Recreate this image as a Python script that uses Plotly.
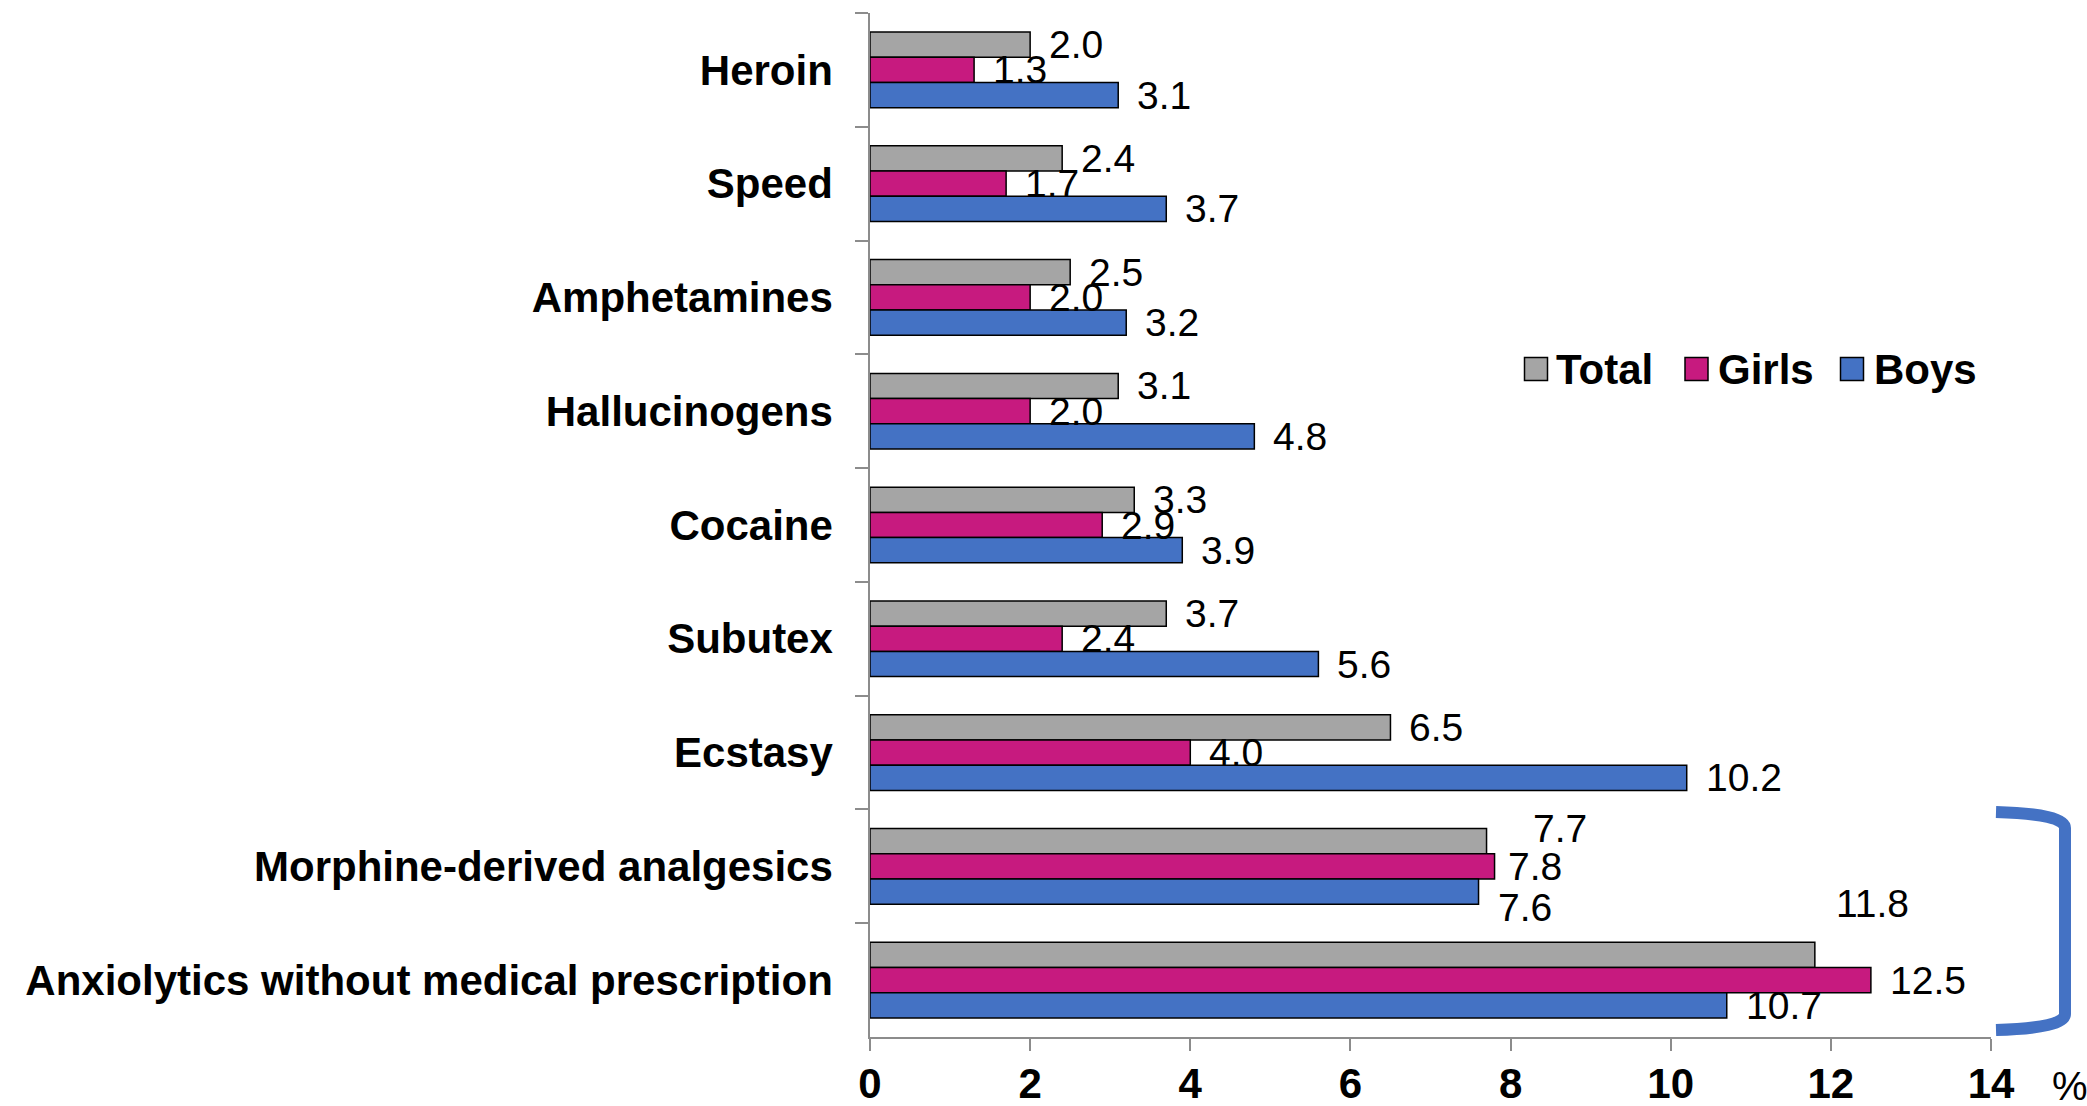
import plotly.graph_objects as go

# ---- data ----
categories = ["Heroin", "Speed", "Amphetamines", "Hallucinogens", "Cocaine",
              "Subutex", "Ecstasy", "Morphine-derived analgesics",
              "Anxiolytics without medical prescription"]
series_names = ["Total", "Girls", "Boys"]
total_values = [2.0, 2.4, 2.5, 3.1, 3.3, 3.7, 6.5, 7.7, 11.8]
girls_values = [1.3, 1.7, 2.0, 2.0, 2.9, 2.4, 4.0, 7.8, 12.5]
boys_values = [3.1, 3.7, 3.2, 4.8, 3.9, 5.6, 10.2, 7.6, 10.7]
x_tick_values = [0, 2, 4, 6, 8, 10, 12, 14]
x_tick_labels = ["0", "2", "4", "6", "8", "10", "12", "14"]
unit_label = "%"

# ---- style ----
W, H = 2087, 1106
ML, MR, MT, MB = 870, 96, 13, 69
PW, PH = W - ML - MR, H - MT - MB
colors = ["#A5A5A5", "#C71A7F", "#4472C4"]
AXIS_GRAY = "#8C8C8C"
FONT = "Liberation Sans"


def px_x(px):
    return (px - ML) / PW


def px_y(py):
    return 1 - (py - MT) / PH


series_values = [total_values, girls_values, boys_values]

fig = go.Figure()
for name, vals, col in zip(series_names, series_values, colors):
    fig.add_trace(go.Bar(
        y=categories, x=vals, name=name, orientation="h",
        marker=dict(color=col, line=dict(color="#000000", width=1.5)),
        showlegend=False, hoverinfo="skip",
    ))

# data labels (annotations placed through data axes, pixel shifts are style)
series_yshift = [25.3, 0, -25.3]
label_gap = 17
custom_shift = {  # (category index, series index): (extra xshift, extra yshift)
    (7, 0): (27, 13),
    (7, 1): (-6, 0),
    (7, 2): (0, -16),
    (8, 0): (2, 51),
}
annotations = []
for si, vals in enumerate(series_values):
    for ci, v in enumerate(vals):
        dx, dy = custom_shift.get((ci, si), (0, 0))
        annotations.append(dict(
            x=v, y=categories[ci], xref="x", yref="y",
            text=f"{v:.1f}", showarrow=False, xanchor="left", yanchor="middle",
            xshift=label_gap + dx, yshift=series_yshift[si] + dy,
            font=dict(family=FONT, size=39, color="#000000"),
        ))

# manual legend (large swatches)
legend_swatch_x = [1524.5, 1685, 1840.5]
legend_text_x = [1554, 1716, 1872]
legend_cy = 369
SW = 23
shapes = []
for i, name in enumerate(series_names):
    x0 = legend_swatch_x[i]
    shapes.append(dict(
        type="rect", xref="paper", yref="paper",
        x0=px_x(x0), x1=px_x(x0 + SW),
        y0=px_y(legend_cy + SW / 2), y1=px_y(legend_cy - SW / 2),
        fillcolor=colors[i], line=dict(color="#000000", width=1.5),
    ))
    annotations.append(dict(
        x=px_x(legend_text_x[i]), y=px_y(legend_cy), xref="paper", yref="paper",
        text=name, showarrow=False, xanchor="left", yanchor="middle",
        font=dict(family=FONT, size=42, color="#000000", weight="bold"),
    ))

# unit label
annotations.append(dict(
    x=px_x(2050), y=px_y(1086), xref="paper", yref="paper",
    text=unit_label, showarrow=False, xanchor="left", yanchor="middle",
    font=dict(family=FONT, size=40, color="#000000"),
))

# bracket
bx0, bx1 = 1996, 2065
by0, by1 = 812, 1030
path = (f"M {px_x(bx0)},{px_y(by0)} "
        f"Q {px_x(bx1)},{px_y(by0 + 2)} {px_x(bx1)},{px_y(by0 + 16)} "
        f"L {px_x(bx1)},{px_y(by1 - 16)} "
        f"Q {px_x(bx1)},{px_y(by1 - 2)} {px_x(bx0)},{px_y(by1)}")
shapes.append(dict(type="path", xref="paper", yref="paper", path=path,
                   line=dict(color="#4472C4", width=12)))

fig.update_layout(
    template="none",
    width=W, height=H,
    margin=dict(l=ML, r=MR, t=MT, b=MB, pad=0, autoexpand=False),
    paper_bgcolor="white", plot_bgcolor="white",
    barmode="group", bargap=0.335, bargroupgap=0,
    annotations=annotations, shapes=shapes,
    showlegend=False,
    xaxis=dict(
        range=[0, 14], tickvals=x_tick_values, ticktext=x_tick_labels,
        showgrid=False, zeroline=False, automargin=False,
        showline=True, linecolor=AXIS_GRAY, linewidth=1.5,
        ticks="outside", ticklen=12, tickwidth=1.5, tickcolor=AXIS_GRAY,
        ticklabelstandoff=-3,
        tickfont=dict(family=FONT, size=42, color="#000000", weight="bold"),
    ),
    yaxis=dict(
        type="category", categoryorder="array", categoryarray=categories,
        range=[len(categories) - 0.5, -0.5], autorange=False,
        showgrid=False, zeroline=False, automargin=False,
        showline=True, linecolor=AXIS_GRAY, linewidth=1.5,
        ticks="outside", tickson="boundaries", ticklen=13, tickwidth=1.5,
        tickcolor=AXIS_GRAY, ticklabelstandoff=27,
        tickfont=dict(family=FONT, size=42, color="#000000", weight="bold"),
    ),
)

fig.write_html("out.html", config={"displayModeBar": False},
               post_script="document.body.style.margin='0';")
